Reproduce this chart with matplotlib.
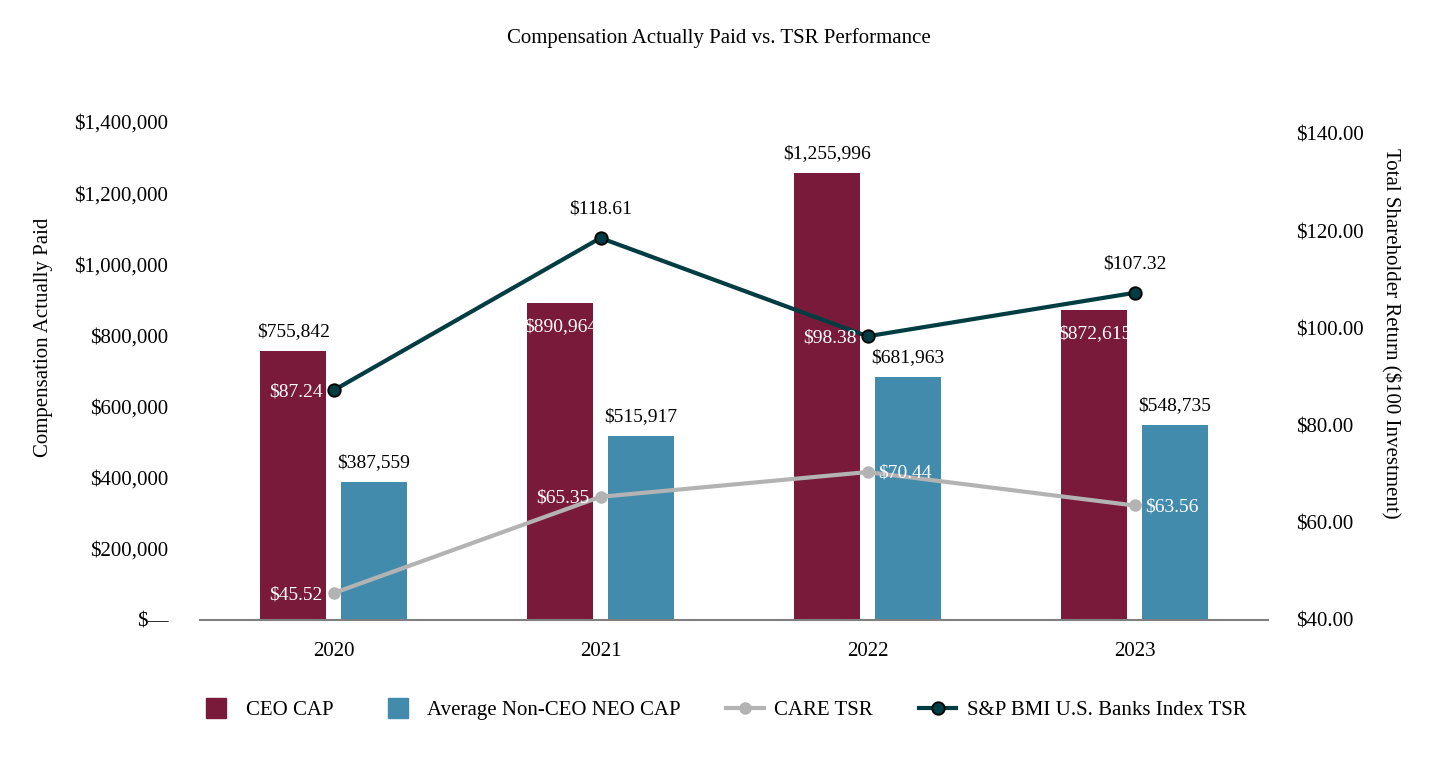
import numpy as np
import matplotlib
matplotlib.use("Agg")
import matplotlib.pyplot as plt
from matplotlib.lines import Line2D
from matplotlib.ticker import FuncFormatter

plt.rcParams["font.family"] = ["Liberation Serif", "DejaVu Serif"]

# data
years = ["2020", "2021", "2022", "2023"]
ceo_cap = [755842, 890964, 1255996, 872615]
neo_cap = [387559, 515917, 681963, 548735]
care_tsr = [45.52, 65.35, 70.44, 63.56]
bank_tsr = [87.24, 118.61, 98.38, 107.32]

# where each label sits
ceo_label_inside = [False, True, False, True]
bank_label_pos = ["left", "above", "left", "above"]
care_label_pos = ["left", "left", "right", "right"]

CEO_COLOR = "#791a3b"
NEO_COLOR = "#428bad"
CARE_COLOR = "#b3b3b3"
BANK_COLOR = "#003d42"

fig = plt.figure(figsize=(14.4, 7.6), dpi=100)
ax = fig.add_axes([200 / 1440, 1 - 620 / 760, 1068 / 1440, 498 / 760])
ax2 = ax.twinx()

x = np.arange(len(years))
w = 0.247
off = 0.15

ax.bar(x - off, ceo_cap, width=w, color=CEO_COLOR, zorder=2)
ax.bar(x + off, neo_cap, width=w, color=NEO_COLOR, zorder=2)

for i, v in enumerate(ceo_cap):
    if ceo_label_inside[i]:
        ax.annotate(f"${v:,}", (x[i] - off, v), xytext=(0, -17), textcoords="offset points",
                    ha="center", va="center", color="white", fontsize=14, zorder=5)
    else:
        ax.annotate(f"${v:,}", (x[i] - off, v), xytext=(0, 14), textcoords="offset points",
                    ha="center", va="center", color="black", fontsize=14, zorder=5)
for i, v in enumerate(neo_cap):
    ax.annotate(f"${v:,}", (x[i] + off, v), xytext=(0, 14), textcoords="offset points",
                ha="center", va="center", color="black", fontsize=14, zorder=5)

ax.set_xlim(-0.5, 3.5)
ax.set_ylim(0, 1400000)
ax.set_yticks(np.arange(0, 1400001, 200000))
ax.yaxis.set_major_formatter(FuncFormatter(lambda v, p: "$\u2014" if v == 0 else f"${v:,.0f}"))
ax.set_xticks(x)
ax.set_xticklabels(years)

ax2.set_ylim(40, 40 + 498 / 486 * 100)
ax2.set_yticks(np.arange(40, 141, 20))
ax2.yaxis.set_major_formatter(FuncFormatter(lambda v, p: f"${v:,.2f}"))

ax2.plot(x, care_tsr, color=CARE_COLOR, lw=3, marker="o", ms=8, mec=CARE_COLOR, zorder=3)
ax2.plot(x, bank_tsr, color=BANK_COLOR, lw=3, marker="o", ms=9, mec="black", mew=1.3, zorder=4)


def tsr_label(pos):
    if pos == "left":
        return dict(xytext=(-8, -1), ha="right", color="white")
    if pos == "right":
        return dict(xytext=(8, -1), ha="left", color="white")
    return dict(xytext=(0, 21), ha="center", color="black")


for i, v in enumerate(bank_tsr):
    ax2.annotate(f"${v:.2f}", (x[i], v), textcoords="offset points", va="center",
                 fontsize=14, zorder=6, **tsr_label(bank_label_pos[i]))
for i, v in enumerate(care_tsr):
    ax2.annotate(f"${v:.2f}", (x[i], v), textcoords="offset points", va="center",
                 fontsize=14, zorder=6, **tsr_label(care_label_pos[i]))

for a in (ax, ax2):
    for s in ("top", "left", "right", "bottom"):
        a.spines[s].set_visible(False)
ax.spines["bottom"].set_visible(True)
ax.spines["bottom"].set_color("#808080")
ax.spines["bottom"].set_linewidth(1.5)
ax.spines["bottom"].set_zorder(5)

ax.tick_params(axis="y", length=0, pad=23, labelsize=15)
ax.tick_params(axis="x", length=0, pad=16, labelsize=15)
ax2.tick_params(axis="y", length=0, pad=20, labelsize=15)

fig.text(44 / 1440, 1 - 337 / 760, "Compensation Actually Paid", rotation=90,
         ha="center", va="center", fontsize=15)
fig.text(1391 / 1440, 1 - 333 / 760, "Total Shareholder Return ($100 Investment)", rotation=270,
         ha="center", va="center", fontsize=15)
fig.text(719 / 1440, 1 - 38 / 760, "Compensation Actually Paid vs. TSR Performance",
         ha="center", va="center", fontsize=15)

handles = [
    Line2D([], [], ls="none", marker="s", ms=15, color=CEO_COLOR),
    Line2D([], [], ls="none", marker="s", ms=15, color=NEO_COLOR),
    Line2D([], [], color=CARE_COLOR, lw=3, marker="o", ms=8, mec=CARE_COLOR),
    Line2D([], [], color=BANK_COLOR, lw=3, marker="o", ms=9, mec="black", mew=1.3),
]
labels = ["CEO CAP", "Average Non-CEO NEO CAP", "CARE TSR", "S&P BMI U.S. Banks Index TSR"]
fig.legend(handles, labels, loc="center", bbox_to_anchor=(722 / 1440, 1 - 710 / 760), ncol=4,
           frameon=False, fontsize=15, handlelength=1.8, handletextpad=0.5, columnspacing=2.2)

fig.savefig("out.png", dpi=100)
